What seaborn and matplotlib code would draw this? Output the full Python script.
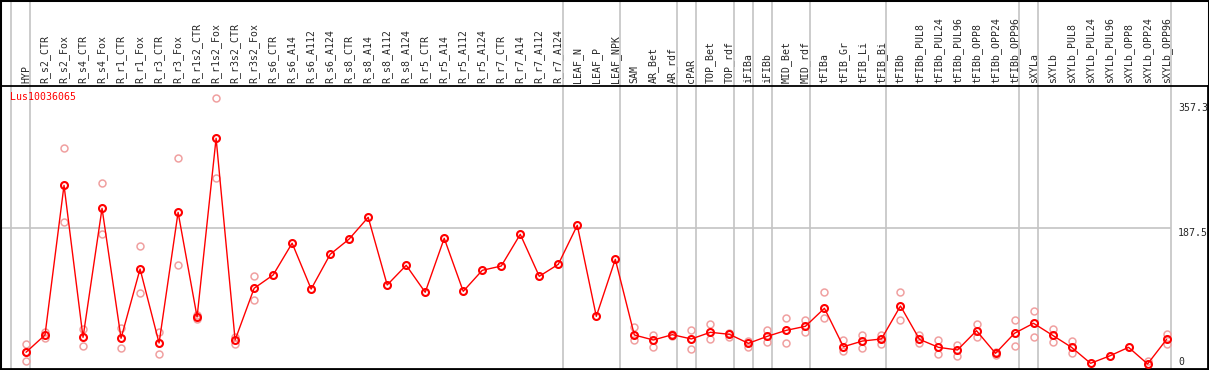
import matplotlib
matplotlib.use("Agg")
import matplotlib.pyplot as plt
from matplotlib.patches import Rectangle
import numpy as np
import pandas as pd
import seaborn as sns

# sample names (header labels)
samples = ["HYP", "R_s2_CTR", "R_s2_Fox", "R_s4_CTR", "R_s4_Fox", "R_r1_CTR", "R_r1_Fox",
           "R_r3_CTR", "R_r3_Fox", "R_r1s2_CTR", "R_r1s2_Fox", "R_r3s2_CTR", "R_r3s2_Fox",
           "R_s6_CTR", "R_s6_A14", "R_s6_A112", "R_s6_A124", "R_s8_CTR", "R_s8_A14", "R_s8_A112",
           "R_s8_A124", "R_r5_CTR", "R_r5_A14", "R_r5_A112", "R_r5_A124", "R_r7_CTR", "R_r7_A14",
           "R_r7_A112", "R_r7_A124", "LEAF_N", "LEAF_P", "LEAF_NPK", "SAM", "AR_Bet", "AR_rdf",
           "cPAR", "TOP_Bet", "TOP_rdf", "iFIBa", "iFIBb", "MID_Bet", "MID_rdf", "tFIBa",
           "tFIB_Gr", "tFIB_Li", "tFIB_Bi", "tFIBb", "tFIBb_PUL8", "tFIBb_PUL24", "tFIBb_PUL96",
           "tFIBb_OPP8", "tFIBb_OPP24", "tFIBb_OPP96", "sXYLa", "sXYLb", "sXYLb_PUL8",
           "sXYLb_PUL24", "sXYLb_PUL96", "sXYLb_OPP8", "sXYLb_OPP24", "sXYLb_OPP96"]

# mean expression per sample
means = [19.9, 43.3, 245.6, 40.1, 214.5, 38.8, 132.5, 32.4, 209.1, 67.6, 309.2, 36.5, 106.4,
         124.4, 167.4, 105.4, 152.3, 173.0, 202.4, 110.9, 137.5, 101.0, 174.0, 102.3, 130.7,
         136.5, 179.4, 122.6, 138.8, 191.6, 68.5, 145.6, 43.3, 36.5, 43.7, 37.9, 46.9, 44.2,
         32.0, 41.5, 49.6, 55.0, 79.4, 27.4, 35.1, 37.9, 82.5, 37.4, 26.6, 23.0, 49.1, 18.5,
         45.6, 59.1, 42.9, 26.6, 5.0, 14.9, 26.6, 4.1, 37.4]

# replicate values per sample (empty = not shown)
replicates = [[31.1, 19.9, 7.7], [46.9, 38.8], [295.6, 195.6], [51.0, 28.0], [248.3, 179.4],
              [52.3, 26.1], [163.2, 100.0], [47.7, 17.2], [282.1, 137.5], [70.3, 64.5],
              [363.3, 255.1], [41.0, 31.1], [122.6, 90.2],
              [], [], [], [], [], [], [], [], [], [], [], [], [], [], [], [], [], [], [],
              [54.1, 36.1], [43.3, 27.4], [45.0, 42.5], [49.6, 24.7], [58.1, 37.4],
              [45.6, 40.2], [34.7, 26.6], [50.0, 34.2], [65.8, 32.0], [63.1, 47.7],
              [101.8, 65.8], [36.5, 21.6], [43.3, 25.3], [43.3, 31.1], [101.0, 63.5],
              [43.3, 32.9], [36.5, 17.2], [29.7, 14.9], [58.1, 40.2], [20.7, 16.2],
              [63.5, 28.8], [75.7, 41.0], [51.4, 33.4], [35.6, 18.5], [], [], [],
              [8.5], [44.2, 30.7]]

# number of samples in each group (separators drawn after each group)
group_sizes = [1, 28, 3, 3, 1, 2, 1, 1, 2, 4, 7, 1, 7]

gene = "Lus10036065"
ytick_vals = [0, 187.5, 357.3]

sns.set_style("white")
plt.rcParams["font.family"] = ["DejaVu Sans Mono", "DejaVu Sans"]
plt.rcParams["font.size"] = 7.1

W, H = 1209, 370
fig = plt.figure(figsize=(W / 100, H / 100), dpi=100)
ax_top, ax_bot = 85.5, 368.5
ax = fig.add_axes([1 / W, (H - ax_bot) / H, 1207 / W, (ax_bot - ax_top) / H])

pos = np.arange(len(samples))
mean_df = pd.DataFrame({"pos": pos, "value": means})
rep_df = pd.DataFrame([(i, v) for i, vals in enumerate(replicates) for v in vals],
                      columns=["pos", "value"])

# axis scaling (19.01 px per sample, 0.7397 px per unit)
xmin = -25 / 19.01
ax.set_xlim(xmin, xmin + 1207 / 19.01)
ax.set_ylim((367 - ax_bot) / 0.7397, (367 - ax_top) / 0.7397)

grey = "#c4c4c4"
bounds = np.cumsum([0] + group_sizes) - 1 + 0.23
for b in bounds:
    ax.axvline(b, ymin=0, ymax=ax_bot / (ax_bot - ax_top), color=grey, lw=1.2,
               clip_on=False, zorder=1)
ax.hlines(187.5, xmin, bounds[-1], color=grey, lw=1.2, zorder=1)

sns.lineplot(data=rep_df, x="pos", y="value", estimator=None, ax=ax, linestyle="",
             marker="o", ms=5, mfc="none", mec="#f0a0a0", mew=1.1, zorder=3)
sns.lineplot(data=mean_df, x="pos", y="value", ax=ax, color="red", lw=1.0,
             marker="o", ms=5, mfc="none", mec="red", mew=1.5, zorder=4)

ax.set_xticks(pos)
ax.set_xticklabels(samples)
ax.tick_params(axis="x", top=True, labeltop=True, bottom=False, labelbottom=False,
               length=0, pad=1.5, labelrotation=90, labelsize=7.1)
ax.yaxis.tick_right()
ax.set_yticks(ytick_vals)
ax.set_yticklabels([f"{v:g}" for v in ytick_vals])
ax.tick_params(axis="y", length=0, pad=-30 * 0.72, labelsize=7.1)
for lab in ax.get_yticklabels():
    lab.set_verticalalignment("bottom" if lab.get_text() == "0" else "top")
ax.set_xlabel("")
ax.set_ylabel("")

for s in ax.spines.values():
    s.set_color("black")
    s.set_linewidth(1.3)

fig.text(10 / W, 1 - 92 / H, gene, color="red", ha="left", va="top", fontsize=7.1)
fig.add_artist(Rectangle((0, 0), 1, 1, transform=fig.transFigure, fill=False,
                         ec="black", lw=2.2))

fig.savefig("out.png", dpi=100)
